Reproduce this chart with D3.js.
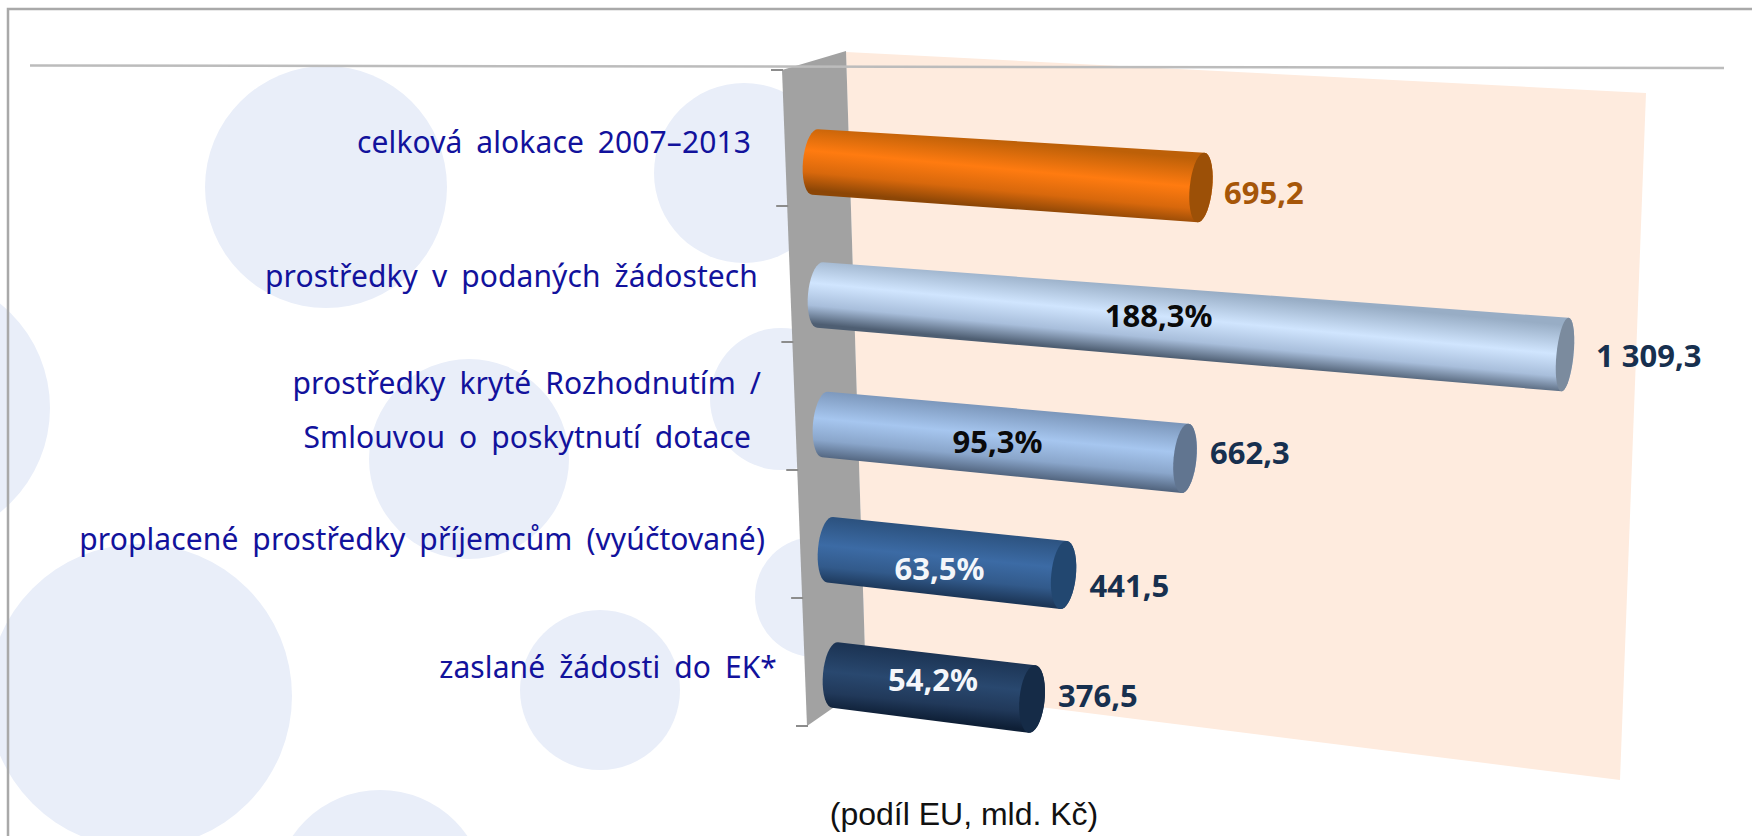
<!DOCTYPE html>
<html>
  <head>
    <title>Prostředky 2007-2013</title>
    <meta charset='utf-8' />
    <script src="https://d3js.org/d3.v7.min.js"></script>
    <style>
    html, body { margin: 0; padding: 0; background: #fff; overflow: hidden; }
    .cat { font-family: "Noto Sans", sans-serif; font-size: 30px; fill: #12129c; word-spacing: 6px; letter-spacing: 0.1px; text-anchor: end; }
    .val { font-family: "Noto Sans", sans-serif; font-size: 31px; font-weight: 700; }
    .pct { font-family: "Noto Sans", sans-serif; font-size: 31px; font-weight: 700; text-anchor: middle; }
    .unit { font-family: "Liberation Sans", sans-serif; font-size: 32px; fill: #111; text-anchor: middle; }
    </style>
  </head>
  <body>
    <div id="chart"></div>
    <script>
// data
var categories = [
  ["celková alokace 2007–2013"],
  ["prostředky v podaných žádostech"],
  ["prostředky kryté Rozhodnutím /", "Smlouvou o poskytnutí dotace"],
  ["proplacené prostředky příjemcům (vyúčtované)"],
  ["zaslané žádosti do EK*"]
];
var values = [695.2, 1309.3, 662.3, 441.5, 376.5];
var valueLabels = ["695,2", "1 309,3", "662,3", "441,5", "376,5"];
var shareLabels = ["", "188,3%", "95,3%", "63,5%", "54,2%"];

// bar colours, top to bottom of the tube, then end cap
var tubeColors = [
  ["#bd6008", "#ff7b10", "#d8680c", "#8c4606", "#9c5007"],
  ["#98adc5", "#d0e5fe", "#a8bedb", "#4e5e72", "#7b8b9e"],
  ["#7c97bb", "#a6c6ef", "#8aa6cb", "#52657f", "#617590"],
  ["#2c527f", "#3c6ba5", "#325a8b", "#1c3657", "#224770"],
  ["#1c3454", "#29486f", "#21395a", "#0e1f36", "#152b47"]
];
var valueColors = ["#a65608", "#17304f", "#17304f", "#17304f", "#17304f"];
var shareColors = ["#000", "#0a0a0a", "#0a0a0a", "#f4f6fa", "#f4f6fa"];

// hand placement of labels, relative to their bar
var catRight = [[751], [758], [761, 751], [765], [777]];
var catDy = [[-9], [-8], [-31, 23], [0], [3]];
var valueDx = [23, 31, 25, 26, 26];
var valueDy = [17, 12, 6, 22, 8];
var shareDx = [0, -1, -2, -6, 0];
var shareDy = [0, 5, 12, 18, 4];

// background bubbles [x, y, r]
var bubbles = [
  [326, 187, 121], [744, 173, 90], [781, 399, 71], [469, 459, 100],
  [-84, 408, 134], [140, 696, 152], [600, 690, 80], [815, 597, 60], [380, 896, 106]
];

var width = 1752, height = 836;
var svg = d3.select("#chart").append("svg").attr("width", width).attr("height", height);
var defs = svg.append("defs");

// scales: the 3D plot is skewed, so band position, slope and bar length all come from scales
var idx = d3.range(values.length);
var bandY = d3.scaleLinear().domain([0, 1, 2, 4]).range([162, 295, 424.5, 675]);
var bandX = d3.scaleLinear().domain([0, 4]).range([815, 835]);
var bandSlope = d3.scaleLinear().domain([0, 4]).range([0.066, 0.122]);
var bandStretch = d3.scaleLinear().domain([0, 1]).range([1.018, 1]).clamp(true);
var barLen = d3.scalePow().exponent(1.067).domain([0, 1309.3]).range([0, 745]);
var tubeHeight = d3.scaleLinear().domain([0, 745]).range([65.5, 73.5]);
var capRx = d3.scaleLinear().domain([1030, 1564]).range([12.5, 8.5]);
var shareAt = d3.scaleLinear().domain([197, 745]).range([0.497, 0.456]);
var tickY = d3.scaleLinear().domain([0, 2, 5]).range([70, 342, 726]);

// bubbles
svg.append("g").selectAll("circle").data(bubbles).enter().append("circle")
  .attr("cx", function(d) { return d[0]; })
  .attr("cy", function(d) { return d[1]; })
  .attr("r", function(d) { return d[2]; })
  .attr("fill", "#e9eef9");

// frame
svg.append("path").attr("d", "M8,836V9H1752")
  .attr("fill", "none").attr("stroke", "#a9a9a9").attr("stroke-width", 2.5);

var line = d3.line();

// back wall and side wall
svg.append("path")
  .attr("d", line([[846, 52], [1646, 93], [1620, 780], [866, 685]]) + "Z")
  .attr("fill", "#feebde");
svg.append("path")
  .attr("d", line([[782, 70], [846, 51], [866, 685], [807, 726]]) + "Z")
  .attr("fill", "#a2a2a2");

// top gridline
svg.append("path").attr("d", line([[30, 65.5], [1724, 68]]))
  .attr("stroke", "#bcbcbc").attr("stroke-width", 2.5).attr("fill", "none");

// axis line ticks
svg.append("g").selectAll("line").data(d3.range(6)).enter().append("line")
  .attr("x1", function(d) { return 782 + (tickY(d) - 70) * 0.0381 - 11; })
  .attr("x2", function(d) { return 782 + (tickY(d) - 70) * 0.0381 + 1; })
  .attr("y1", function(d) { return tickY(d); })
  .attr("y2", function(d) { return tickY(d); })
  .attr("stroke", "#8c8c8c").attr("stroke-width", 2);

// point on the tube's cross ellipse: t=0 right along the axis, t=90deg towards the top
function ringPoint(c, a, b, t) {
  return [c[0] + a[0] * Math.cos(t) + b[0] * Math.sin(t),
          c[1] + a[1] * Math.cos(t) + b[1] * Math.sin(t)];
}

function geometry(i) {
  var m = bandSlope(i), len = barLen(values[i]) * bandStretch(i);
  var s = [bandX(i), bandY(i)];
  var e = [s[0] + len, s[1] + m * len];
  var rxS = 12, rxE = capRx(e[0]);
  var hS = tubeHeight(0) / 2, hE = tubeHeight(len) / 2;
  return {
    m: m, len: len, s: s, e: e,
    aS: [rxS, rxS * m], aE: [rxE, rxE * m],
    bS: [0.09 * hS, -hS], bE: [0.1 * hE, -hE]
  };
}

var bars = svg.append("g").selectAll("g").data(idx).enter().append("g");

bars.each(function(i) {
  var g = d3.select(this), q = geometry(i), pts = [], t;
  var mid = [(q.s[0] + q.e[0]) / 2, (q.s[1] + q.e[1]) / 2];
  var bm = [(q.bS[0] + q.bE[0]) / 2, (q.bS[1] + q.bE[1]) / 2];

  var grad = defs.append("linearGradient").attr("id", "tube" + i)
    .attr("gradientUnits", "userSpaceOnUse")
    .attr("x1", mid[0] + bm[0]).attr("y1", mid[1] + bm[1])
    .attr("x2", mid[0] - bm[0]).attr("y2", mid[1] - bm[1]);
  [0, 0.42, 0.74, 1].forEach(function(o, k) {
    grad.append("stop").attr("offset", o).attr("stop-color", tubeColors[i][k]);
  });

  // rounded start, then across to the far end
  for (t = 90; t <= 270; t += 10) pts.push(ringPoint(q.s, q.aS, q.bS, t * Math.PI / 180));
  for (t = 270; t <= 450; t += 10) pts.push(ringPoint(q.e, q.aE, q.bE, t * Math.PI / 180));
  g.append("path").attr("d", line(pts) + "Z").attr("fill", "url(#tube" + i + ")");

  var cap = d3.range(0, 360, 10).map(function(a) {
    return ringPoint(q.e, q.aE, q.bE, a * Math.PI / 180);
  });
  g.append("path").attr("d", line(cap) + "Z").attr("fill", tubeColors[i][4]);

  // value at the end of the bar
  g.append("text").attr("class", "val")
    .attr("x", q.e[0] + valueDx[i])
    .attr("y", q.e[1] + valueDy[i])
    .attr("fill", valueColors[i])
    .text(valueLabels[i]);

  // share printed on the bar
  if (shareLabels[i]) {
    var u = q.len * shareAt(q.len);
    g.append("text").attr("class", "pct")
      .attr("x", q.s[0] + u + shareDx[i])
      .attr("y", q.s[1] + q.m * u + shareDy[i])
      .attr("fill", shareColors[i])
      .text(shareLabels[i]);
  }
});

// category labels
idx.forEach(function(i) {
  categories[i].forEach(function(txt, k) {
    svg.append("text").attr("class", "cat")
      .attr("x", catRight[i][k])
      .attr("y", bandY(i) + catDy[i][k])
      .text(txt);
  });
});

svg.append("text").attr("class", "unit").attr("x", 964).attr("y", 825).text("(podíl EU, mld. Kč)");
    </script>
  </body>
</html>
